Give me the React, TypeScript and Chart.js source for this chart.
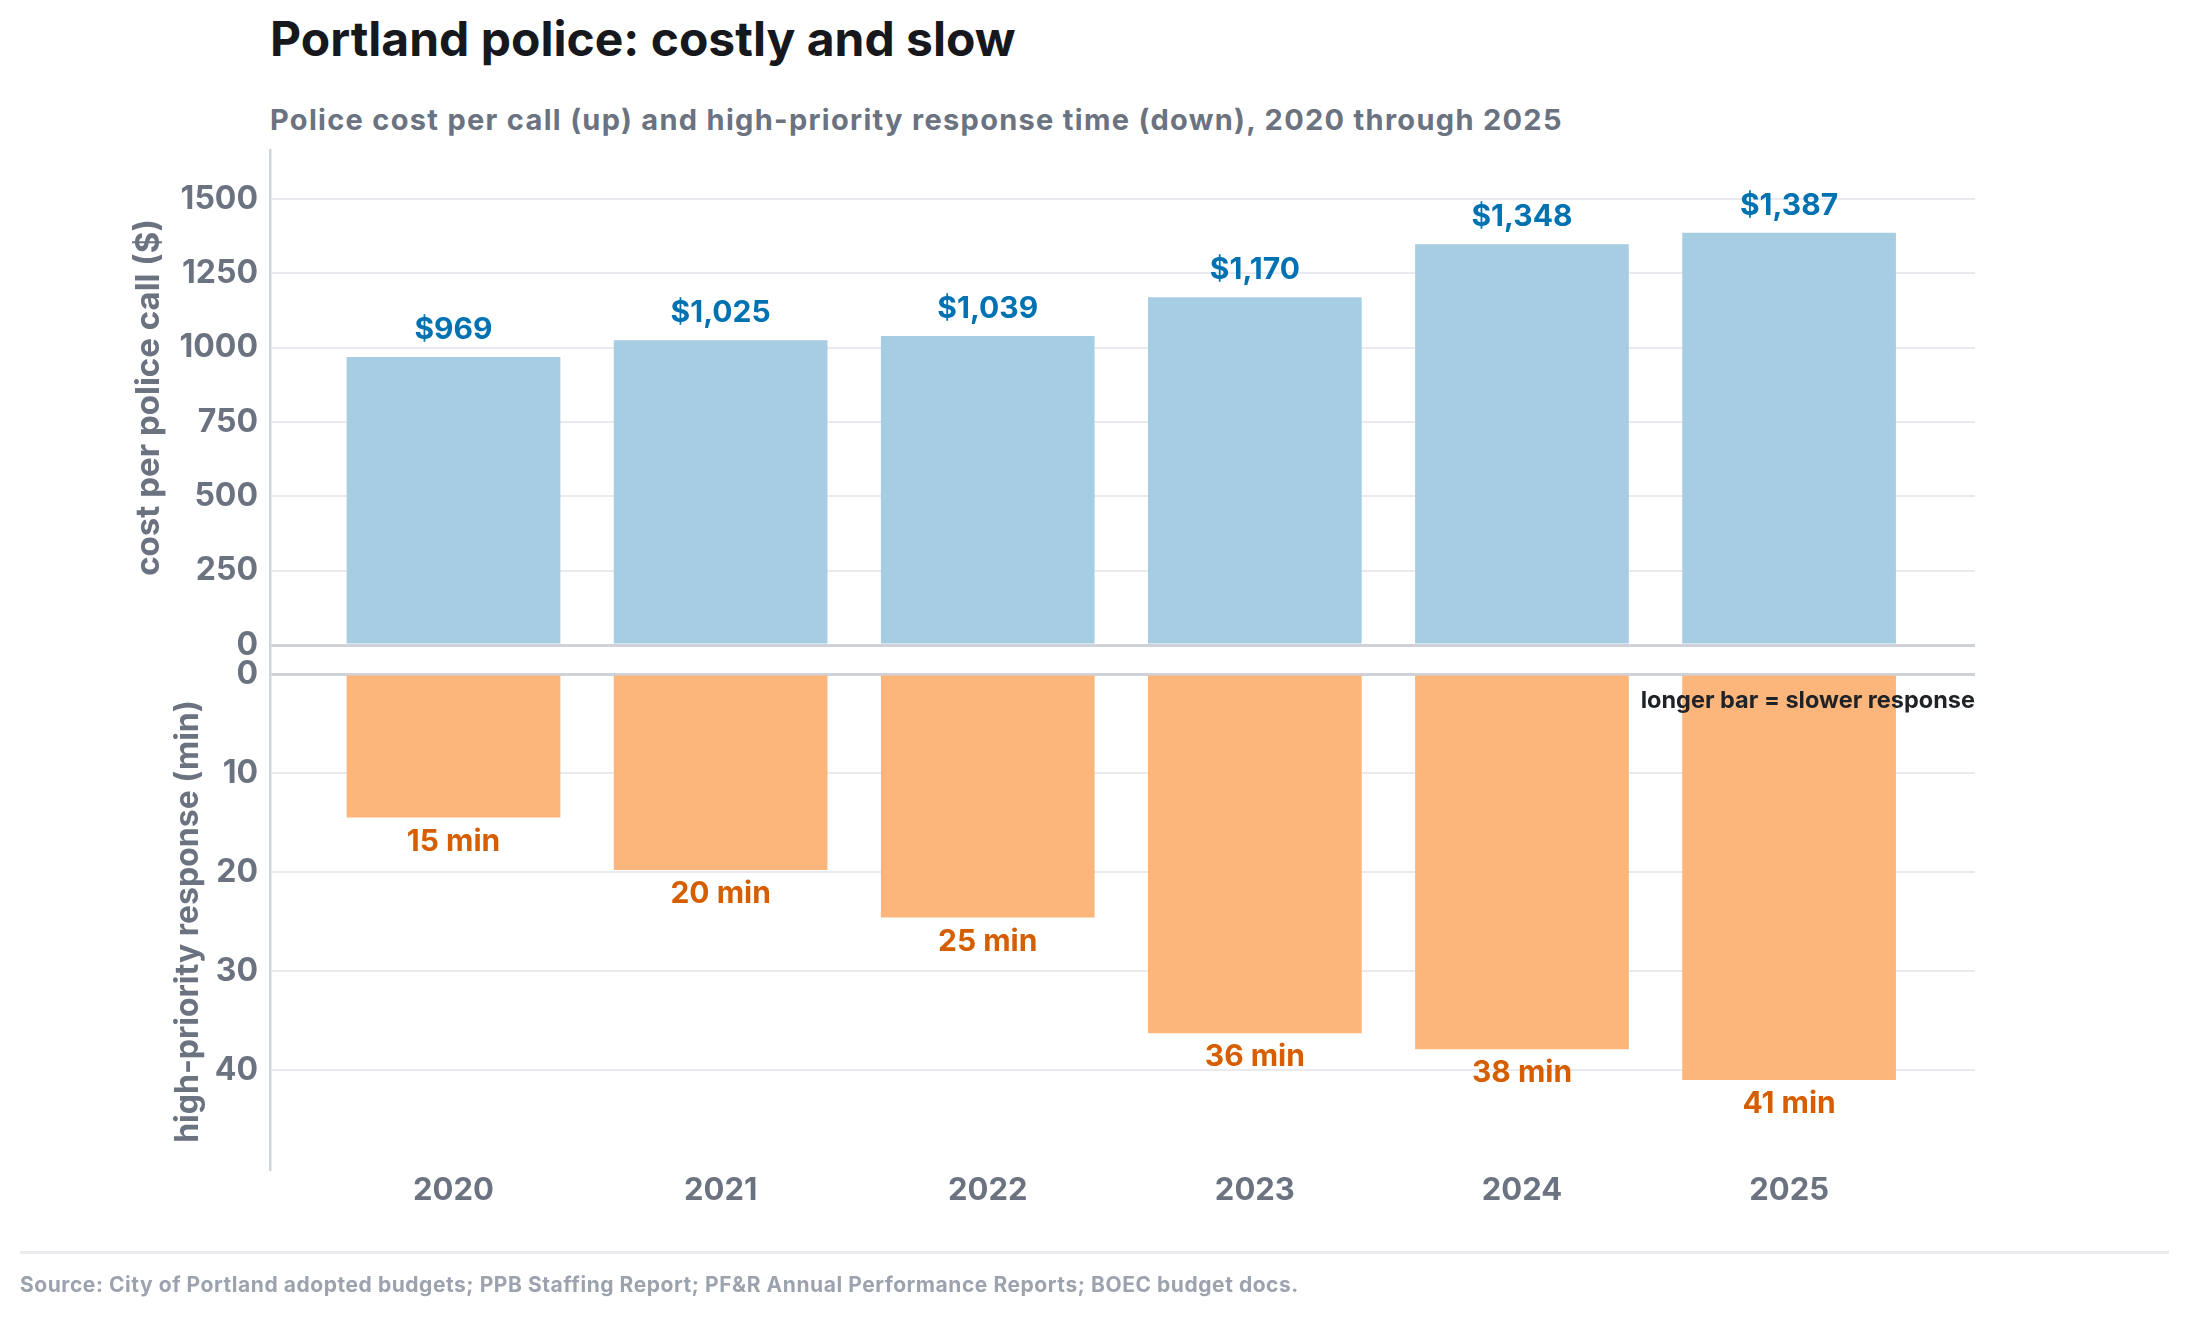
import React, { useEffect, useRef } from 'react';
import { Chart, registerables } from 'chart.js';

Chart.register(...registerables);

const years = [2020, 2021, 2022, 2023, 2024, 2025];
const costPerCall = [969, 1025, 1039, 1170, 1348, 1387];
const responseMinutes = [14.5, 19.8, 24.6, 36.3, 37.9, 41.0];
const costTicks = [0, 250, 500, 750, 1000, 1250, 1500];
const responseTicks = [0, 10, 20, 30, 40];

const FONT = "Inter, 'Open Sans', sans-serif";
const GREY = '#6b7280';
const GRID = '#e9eaef';
const ZERO = '#cfd3d9';
const AXIS = '#d1d5db';

Chart.defaults.font.family = FONT;

// value labels above / below bars plus the little note
const barLabels = {
  id: 'barLabels',
  afterDatasetsDraw(chart: any) {
    const { ctx, chartArea } = chart;
    ctx.save();
    ctx.textAlign = 'center';
    ctx.textBaseline = 'alphabetic';
    ctx.font = `700 30px ${FONT}`;
    ctx.fillStyle = '#0072b2';
    chart.getDatasetMeta(0).data.forEach((bar: any, i: number) => {
      ctx.fillText('$' + costPerCall[i].toLocaleString('en-US'), bar.x, bar.y - 18);
    });
    ctx.font = `700 30px ${FONT}`;
    ctx.fillStyle = '#d55e00';
    chart.getDatasetMeta(1).data.forEach((bar: any, i: number) => {
      ctx.fillText(Math.round(responseMinutes[i]) + ' min', bar.x, bar.y + 33);
    });
    ctx.textAlign = 'right';
    ctx.font = `700 23.5px ${FONT}`;
    ctx.fillStyle = '#1f2328';
    const zero = chart.scales.y2.getPixelForValue(0);
    ctx.fillText('longer bar = slower response', chartArea.right, zero + 34);
    ctx.restore();
  },
};

const gridColor = (c: any) => (c.tick && c.tick.value === 0 ? ZERO : GRID);
const gridWidth = (c: any) => (c.tick && c.tick.value === 0 ? 3 : 2);
const fixWidth = (scale: any) => {
  scale.width = 270;
};

export default function App() {
  const canvasRef = useRef<HTMLCanvasElement>(null);
  const chartRef = useRef<Chart | null>(null);

  useEffect(() => {
    if (!canvasRef.current) return;
    if (chartRef.current) chartRef.current.destroy();

    chartRef.current = new Chart(canvasRef.current, {
      type: 'bar',
      data: {
        datasets: [
          {
            label: 'cost per police call',
            data: years.map((x, i) => ({ x, y: costPerCall[i] })),
            xAxisID: 'x',
            yAxisID: 'y',
            backgroundColor: '#a7cde3',
            grouped: false,
            barPercentage: 0.8,
            categoryPercentage: 1,
          },
          {
            label: 'high-priority response',
            data: years.map((x, i) => ({ x, y: responseMinutes[i] })),
            xAxisID: 'x',
            yAxisID: 'y2',
            backgroundColor: '#fcb57a',
            grouped: false,
            barPercentage: 0.8,
            categoryPercentage: 1,
          },
        ],
      } as any,
      options: {
        animation: false,
        responsive: true,
        maintainAspectRatio: false,
        devicePixelRatio: 1,
        layout: { padding: { left: 0, right: 212, top: 150, bottom: 88 } },
        plugins: {
          legend: { display: false },
          tooltip: { enabled: false },
        },
        scales: {
          x: {
            type: 'linear',
            offset: false,
            min: 2019.313,
            max: 2025.696,
            afterBuildTicks: (scale: any) => {
              scale.ticks = years.map((value) => ({ value }));
            },
            afterFit: (scale: any) => {
              scale.height = 60;
            },
            ticks: {
              callback: (v: any) => String(v),
              autoSkip: false,
              maxRotation: 0,
              padding: 3,
              color: GREY,
              font: { size: 31, weight: 'bold' },
            },
            grid: { display: false, drawTicks: false, offset: false },
            border: { display: false },
          },
          y: {
            type: 'linear',
            position: 'left',
            stack: 'panels',
            stackWeight: 495,
            weight: 3,
            min: 0,
            max: 1665,
            afterFit: fixWidth,
            afterBuildTicks: (scale: any) => {
              scale.ticks = costTicks.map((value) => ({ value }));
            },
            ticks: {
              callback: (v: any) => String(v),
              padding: 12,
              color: GREY,
              font: { size: 32, weight: 'bold' },
            },
            grid: { color: gridColor, lineWidth: gridWidth, drawTicks: false },
            border: { display: true, color: AXIS, width: 2.5 },
            title: {
              display: true,
              text: 'cost per police call ($)',
              color: GREY,
              font: { size: 33, weight: 'bold' },
              padding: { top: 129, bottom: 0 },
            },
          },
          gap: {
            type: 'linear',
            position: 'left',
            stack: 'panels',
            stackWeight: 29,
            weight: 2,
            afterFit: fixWidth,
            ticks: { display: false },
            grid: { display: false, drawTicks: false },
            border: { display: true, color: AXIS, width: 2.5 },
          },
          y2: {
            type: 'linear',
            position: 'left',
            stack: 'panels',
            stackWeight: 495,
            weight: 1,
            reverse: true,
            min: 0,
            max: 50,
            afterFit: fixWidth,
            afterBuildTicks: (scale: any) => {
              scale.ticks = responseTicks.map((value) => ({ value }));
            },
            ticks: {
              callback: (v: any) => String(v),
              padding: 12,
              color: GREY,
              font: { size: 32, weight: 'bold' },
            },
            grid: { color: gridColor, lineWidth: gridWidth, drawTicks: false },
            border: { display: true, color: AXIS, width: 2.5 },
            title: {
              display: true,
              text: 'high-priority response (min)',
              color: GREY,
              font: { size: 32, weight: 'bold' },
              padding: { top: 169, bottom: 0 },
            },
          },
        },
      } as any,
      plugins: [barLabels],
    });

    return () => {
      if (chartRef.current) {
        chartRef.current.destroy();
        chartRef.current = null;
      }
    };
  }, []);

  return (
    <div style={{ position: 'absolute', left: 0, top: 0, width: 2187, height: 1317, background: '#fff', fontFamily: FONT }}>
      <div
        style={{
          position: 'absolute', left: 270, top: 15, fontSize: 48, lineHeight: '48px',
          fontWeight: 700, color: '#16181d', whiteSpace: 'nowrap',
        }}
      >
        Portland police: costly and slow
      </div>
      <div
        style={{
          position: 'absolute', left: 270, top: 105, fontSize: 29, lineHeight: '29px',
          fontWeight: 700, color: GREY, whiteSpace: 'nowrap', letterSpacing: '1.3px',
        }}
      >
        Police cost per call (up) and high-priority response time (down), 2020 through 2025
      </div>
      <div style={{ position: 'absolute', left: 0, top: 0, width: 2187, height: 1317 }}>
        <canvas ref={canvasRef}></canvas>
      </div>
      <div style={{ position: 'absolute', left: 20, top: 1251, width: 2149, height: 3, background: '#ebebef' }} />
      <div
        style={{
          position: 'absolute', left: 20, top: 1274, fontSize: 21, lineHeight: '21px',
          fontWeight: 700, color: '#9ca3af', whiteSpace: 'nowrap', letterSpacing: '0.55px',
        }}
      >
        Source: City of Portland adopted budgets; PPB Staffing Report; PF&amp;R Annual Performance Reports; BOEC budget docs.
      </div>
    </div>
  );
}
